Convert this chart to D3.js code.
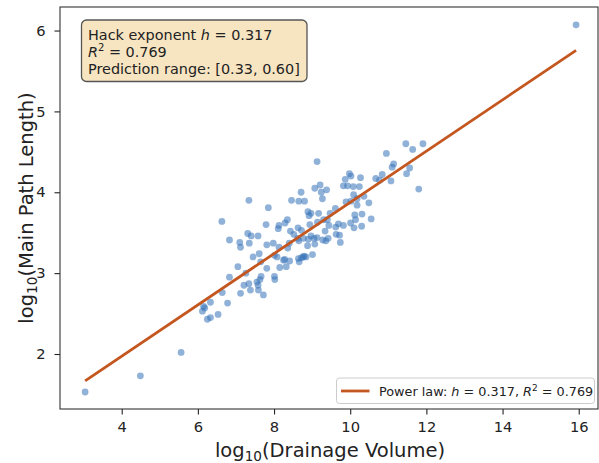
<!DOCTYPE html>
<html>
<head>
<meta charset="utf-8">
<script src="https://cdn.jsdelivr.net/npm/d3@7"></script>
<style>
  html, body { margin: 0; padding: 0; background: #fff; }
  svg { display: block; font-family: "DejaVu Sans", sans-serif; }
</style>
</head>
<body>
<svg id="chart" width="599" height="463"></svg>
<script>
// log10 drainage volume of each basin
const drainageLog = [
  11.46, 11.64, 10.95, 9.13, 11.14, 11.10, 11.56, 10.84, 11.80, 11.48,
  11.07, 10.67, 10.77, 9.98, 10.02, 10.27, 9.87, 9.93, 9.82, 10.08,
  10.24, 9.07, 9.21, 9.38, 9.24, 8.71, 9.27, 7.34, 8.46, 8.65,
  8.80, 10.36, 10.09, 10.18, 9.89, 10.02, 10.49, 10.18, 7.85, 9.61,
  8.89, 8.97, 9.17, 8.92, 9.47, 6.63, 7.79, 8.13, 8.35, 8.29,
  8.11, 8.63, 8.94, 9.14, 9.30, 9.44, 9.40, 10.12, 10.31, 10.14,
  10.01, 10.10, 10.30, 10.55, 9.69, 9.82, 9.62, 9.34, 9.72, 9.63,
  9.42, 9.28, 9.36, 9.13, 9.05, 8.90, 8.77, 8.97, 8.72, 8.52,
  8.43, 8.62, 8.65, 6.83, 7.10, 7.12, 7.31, 7.40, 7.58, 7.35,
  7.81, 7.98, 8.13, 8.36, 8.40, 8.88, 9.07, 9.74, 7.45, 7.61,
  7.65, 7.81, 8.01, 8.08, 8.25, 8.41, 8.28, 8.15, 8.32, 8.64,
  8.79, 8.84, 8.66, 9.01, 7.05, 7.26, 6.83, 7.66, 7.63, 7.55,
  8.01, 8.02, 7.21, 7.34, 7.38, 7.58, 7.59, 7.72, 7.12, 6.64,
  6.78, 6.33, 6.15, 6.12, 6.18, 6.25, 6.33, 6.53,
  3.04, 4.49, 5.56, 15.93, 11.91, 8.76, 8.72
];

// log10 main path length of the same basins
const pathLog = [
  4.60, 4.53, 4.48, 4.38, 4.35, 4.31, 4.30, 4.22, 4.04, 4.23,
  4.14, 4.17, 4.15, 4.23, 4.20, 4.18, 4.16, 4.08, 4.08, 4.07,
  4.07, 4.05, 4.09, 4.03, 4.00, 4.00, 3.92, 3.90, 3.90, 3.89,
  3.89, 3.95, 3.97, 3.92, 3.88, 3.89, 3.87, 3.84, 3.81, 3.80,
  3.76, 3.74, 3.74, 3.71, 3.74, 3.64, 3.60, 3.59, 3.66, 3.62,
  3.55, 3.56, 3.60, 3.63, 3.66, 3.59, 3.66, 3.72, 3.73, 3.66,
  3.62, 3.56, 3.58, 3.67, 3.61, 3.59, 3.57, 3.52, 3.47, 3.48,
  3.43, 3.41, 3.40, 3.44, 3.43, 3.42, 3.43, 3.46, 3.53, 3.48,
  3.52, 3.43, 3.40, 3.41, 3.38, 3.32, 3.49, 3.46, 3.46, 3.37,
  3.35, 3.37, 3.32, 3.31, 3.37, 3.34, 3.36, 3.38, 3.20, 3.24,
  3.14, 3.06, 3.22, 3.20, 3.16, 3.15, 3.17, 3.07, 3.08, 3.18,
  3.21, 3.20, 3.14, 3.23, 3.08, 3.00, 2.95, 2.96, 2.92, 2.89,
  2.96, 2.92, 2.85, 2.87, 2.79, 2.85, 2.79, 2.73, 2.75, 2.76,
  2.63, 2.64, 2.59, 2.53, 2.57, 2.43, 2.45, 2.49,
  1.53, 1.73, 2.02, 6.07, 4.60, 3.20, 3.19
];

// fitted power law in log space: log L = h * log V + c
const hackExponent = 0.317;
const fitIntercept = 0.705;
const rSquared = 0.769;
const predictionRange = [0.33, 0.60];

const xTicks = [4, 6, 8, 10, 12, 14, 16];
const yTicks = [2, 3, 4, 5, 6];

const svg = d3.select("#chart");
const plot = { left: 60, right: 598, top: 7, bottom: 409 };

const x = d3.scaleLinear().domain([2.380, 16.506]).range([plot.left, plot.right]);
const y = d3.scaleLinear().domain([1.320, 6.291]).range([plot.bottom, plot.top]);

// scatter of basins
svg.append("g")
  .selectAll("circle")
  .data(drainageLog.map((v, i) => [v, pathLog[i]]))
  .join("circle")
  .attr("cx", d => x(d[0]))
  .attr("cy", d => y(d[1]))
  .attr("r", 3.4)
  .attr("fill", "#3673b8")
  .attr("fill-opacity", 0.55);

// fitted line across the observed range
const xExtent = d3.extent(drainageLog);
const fitLine = xExtent.map(v => [v, hackExponent * v + fitIntercept]);
svg.append("path")
  .datum(fitLine)
  .attr("d", d3.line().x(d => x(d[0])).y(d => y(d[1])))
  .attr("fill", "none")
  .attr("stroke", "#c4561f")
  .attr("stroke-width", 2.8);

// axes
const xAxis = svg.append("g")
  .attr("transform", `translate(0,${plot.bottom})`)
  .call(d3.axisBottom(x).tickValues(xTicks).tickSize(5.5).tickPadding(7.5).tickFormat(d3.format("d")));
const yAxis = svg.append("g")
  .attr("transform", `translate(${plot.left},0)`)
  .call(d3.axisLeft(y).tickValues(yTicks).tickSize(5.5).tickPadding(9).tickFormat(d3.format("d")));

[xAxis, yAxis].forEach(g => {
  g.select(".domain").remove();
  g.selectAll(".tick line").attr("stroke", "#222").attr("stroke-width", 1.1);
  g.selectAll(".tick text")
    .attr("font-family", "DejaVu Sans")
    .attr("font-size", 14.7)
    .attr("fill", "#222");
});

// frame
svg.append("rect")
  .attr("x", plot.left).attr("y", plot.top)
  .attr("width", plot.right - plot.left).attr("height", plot.bottom - plot.top)
  .attr("fill", "none").attr("stroke", "#333").attr("stroke-width", 1.1);

// axis titles
const xTitle = svg.append("text")
  .attr("x", 330)
  .attr("y", 457)
  .attr("text-anchor", "middle")
  .attr("font-size", 19.5)
  .attr("fill", "#222");
xTitle.append("tspan").text("log");
xTitle.append("tspan").attr("font-size", 13.6).attr("dy", 4).text("10");
xTitle.append("tspan").attr("dy", -4).text("(Drainage Volume)");

const yTitle = svg.append("text")
  .attr("transform", `translate(33,${(plot.top + plot.bottom) / 2}) rotate(-90)`)
  .attr("text-anchor", "middle")
  .attr("font-size", 19.5)
  .attr("fill", "#222");
yTitle.append("tspan").text("log");
yTitle.append("tspan").attr("font-size", 13.6).attr("dy", 4).text("10");
yTitle.append("tspan").attr("dy", -4).text("(Main Path Length)");

// summary box
svg.append("rect")
  .attr("x", 81.5).attr("y", 20)
  .attr("width", 225.5).attr("height", 61.5)
  .attr("rx", 5).attr("ry", 5)
  .attr("fill", "#f5deb3").attr("fill-opacity", 0.8)
  .attr("stroke", "#555").attr("stroke-width", 1.3);

const boxText = svg.append("g")
  .attr("font-size", 14.4)
  .attr("fill", "#222");

const line1 = boxText.append("text").attr("x", 88).attr("y", 39.5);
line1.append("tspan").text("Hack exponent ");
line1.append("tspan").attr("font-style", "italic").text("h");
line1.append("tspan").text(" = " + hackExponent.toFixed(3));

const line2 = boxText.append("text").attr("x", 88).attr("y", 56.5);
line2.append("tspan").attr("font-style", "italic").text("R");
line2.append("tspan").attr("font-size", 10).attr("dy", -5.5).text("2");
line2.append("tspan").attr("dy", 5.5).text(" = " + rSquared.toFixed(3));

boxText.append("text").attr("x", 88).attr("y", 73.5)
  .text(`Prediction range: [${predictionRange[0].toFixed(2)}, ${predictionRange[1].toFixed(2)}]`);

// legend
const legend = svg.append("g");
legend.append("rect")
  .attr("x", 336.5).attr("y", 378)
  .attr("width", 258).attr("height", 25.5)
  .attr("rx", 3).attr("ry", 3)
  .attr("fill", "#fff").attr("fill-opacity", 0.8)
  .attr("stroke", "#ccc").attr("stroke-width", 1);
legend.append("line")
  .attr("x1", 341).attr("x2", 369.5)
  .attr("y1", 391).attr("y2", 391)
  .attr("stroke", "#c4561f").attr("stroke-width", 2.8);
const legText = legend.append("text")
  .attr("x", 379).attr("y", 395.5)
  .attr("font-size", 12.8)
  .attr("fill", "#222");
legText.append("tspan").text("Power law: ");
legText.append("tspan").attr("font-style", "italic").text("h");
legText.append("tspan").text(" = " + hackExponent.toFixed(3) + ", ");
legText.append("tspan").attr("font-style", "italic").text("R");
legText.append("tspan").attr("font-size", 9).attr("dy", -5).text("2");
legText.append("tspan").attr("dy", 5).text(" = " + rSquared.toFixed(3));
</script>
</body>
</html>
